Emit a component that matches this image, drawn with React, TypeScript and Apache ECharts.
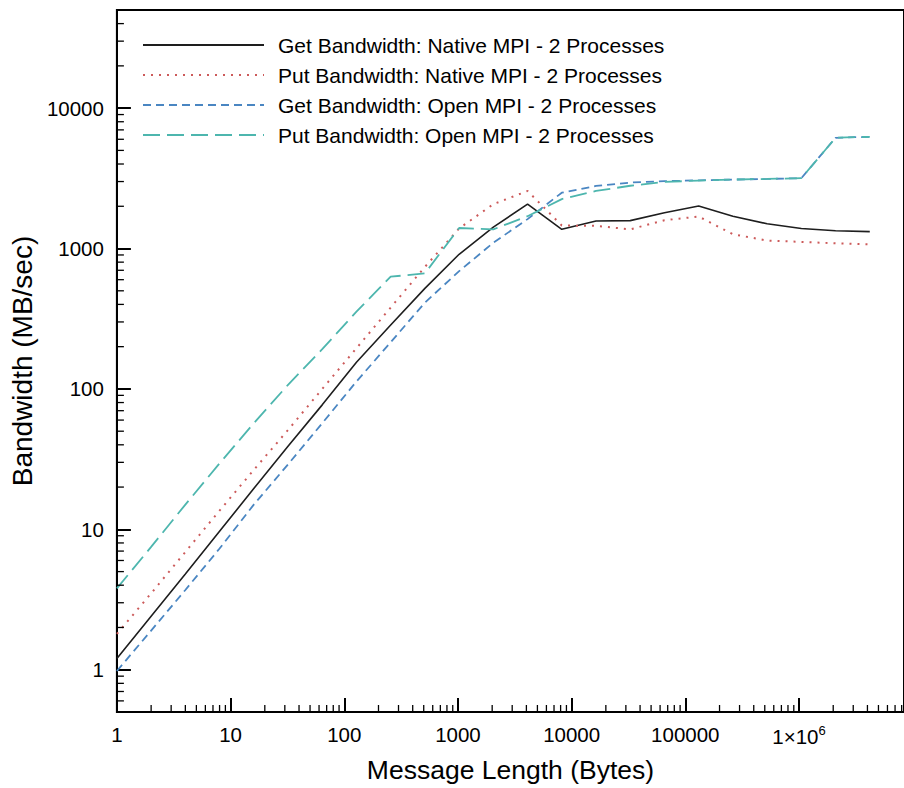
import React, { useEffect, useRef } from "react";
import * as echarts from "echarts";

const FONT = "'Liberation Sans', Arial, Helvetica, sans-serif";

// Message sizes (bytes)
const SIZES = [
  1, 2, 4, 8, 16, 32, 64, 128, 256, 512, 1024, 2048, 4096, 8192, 16384, 32768,
  65536, 131072, 262144, 524288, 1048576, 2097152, 4194304,
];

// Bandwidth (MB/sec)
const GET_NATIVE = [
  1.2, 2.4, 4.8, 9.7, 19.5, 39, 77, 155, 285, 520, 910, 1420, 2070, 1370, 1570,
  1580, 1800, 2010, 1700, 1500, 1390, 1340, 1320,
];
const PUT_NATIVE = [
  1.8, 3.5, 6.9, 13.6, 26.5, 51, 100, 195, 380, 740, 1390, 2070, 2570, 1460,
  1450, 1370, 1590, 1690, 1265, 1140, 1115, 1090, 1070,
];
const GET_OPEN = [
  0.98, 1.9, 3.7, 7.3, 15, 29, 57, 113, 215, 412, 690, 1100, 1620, 2500, 2790,
  2950, 3020, 3060, 3100, 3130, 3170, 6150, 6250,
];
const PUT_OPEN = [
  3.8, 7.5, 15, 29.5, 57, 107, 192, 355, 630, 665, 1400, 1370, 1700, 2250,
  2570, 2800, 2980, 3050, 3100, 3130, 3170, 6150, 6250,
];

const SERIES_NAMES = [
  "Get Bandwidth: Native MPI - 2 Processes",
  "Put Bandwidth: Native MPI - 2 Processes",
  "Get Bandwidth: Open MPI - 2 Processes",
  "Put Bandwidth: Open MPI - 2 Processes",
];

const X_MIN = 1;
const X_MAX = 8388608;
const Y_MIN = 0.5;
const Y_MAX = 50000;

// minor tick positions (log axes)
const MINOR_MULT = [2, 3, 4, 5, 6, 7, 8, 9];
const X_DECADES = [1, 10, 100, 1000, 10000, 100000, 1000000];
const X_MINOR = X_DECADES.flatMap((d) => MINOR_MULT.map((m) => m * d));
const Y_MINOR = [
  0.6, 0.7, 0.8, 0.9,
  ...[1, 10, 100, 1000].flatMap((d) => MINOR_MULT.map((m) => m * d)),
  20000, 30000, 40000,
];

export default function App() {
  const ref = useRef<HTMLDivElement>(null);

  useEffect(() => {
    if (!ref.current) return;
    const chart = echarts.init(ref.current, null, { renderer: "svg" });

    const mk = (
      name: string,
      data: number[],
      color: string,
      width: number,
      type: any
    ) => ({
      name,
      type: "line",
      data: SIZES.map((s, i) => [s, data[i]]),
      symbol: "none",
      smooth: false,
      lineStyle: { color, width, type },
      itemStyle: { color },
      z: 3,
    });

    const minorX = {
      type: "custom",
      name: "_xminor",
      silent: true,
      clip: false,
      z: 5,
      data: X_MINOR.map((v) => [v, Y_MIN]),
      renderItem: (_p: any, api: any) => {
        const pt = api.coord([api.value(0), api.value(1)]);
        return {
          type: "line",
          shape: { x1: pt[0], y1: pt[1], x2: pt[0], y2: pt[1] - 7 },
          style: { stroke: "#000", lineWidth: 1.3 },
        };
      },
    };
    const minorY = {
      type: "custom",
      name: "_yminor",
      silent: true,
      clip: false,
      z: 5,
      data: Y_MINOR.map((v) => [X_MIN, v]),
      renderItem: (_p: any, api: any) => {
        const pt = api.coord([api.value(0), api.value(1)]);
        return {
          type: "line",
          shape: { x1: pt[0], y1: pt[1], x2: pt[0] + 7, y2: pt[1] },
          style: { stroke: "#000", lineWidth: 1.3 },
        };
      },
    };

    chart.setOption({
      animation: false,
      backgroundColor: "#fff",
      textStyle: { fontFamily: FONT },
      grid: {
        left: 112.7,
        right: -4.4,
        top: 10,
        bottom: 74.3,
        show: true,
        borderColor: "#000",
        borderWidth: 2,
        containLabel: false,
      },
      legend: {
        orient: "vertical",
        left: 142,
        top: 33,
        padding: 0,
        itemWidth: 121,
        itemHeight: 14,
        itemGap: 6,
        data: SERIES_NAMES,
        itemStyle: { opacity: 0, borderWidth: 0 },
        textStyle: {
          fontFamily: FONT,
          fontSize: 21,
          color: "#000",
          lineHeight: 24,
          padding: [0, 0, 0, 9],
        },
      },
      xAxis: {
        type: "log",
        logBase: 10,
        min: X_MIN,
        max: X_MAX,
        axisLine: { show: true, onZero: false, lineStyle: { color: "#000", width: 2 } },
        axisTick: { show: true, inside: true, length: 14, lineStyle: { color: "#000", width: 2 } },
        splitLine: { show: false },
        axisLabel: {
          margin: 12,
          fontSize: 20.5,
          color: "#000",
          fontFamily: FONT,
          showMaxLabel: false,
          formatter: (v: number) => {
            const r = Math.round(v);
            if (r >= 1000000) return "{b|1×10}{s|6}";
            return String(r);
          },
          rich: {
            b: { fontSize: 20.5, fontFamily: FONT, color: "#000", lineHeight: 24 },
            s: { fontSize: 13, fontFamily: FONT, color: "#000", lineHeight: 13, verticalAlign: "top" },
          },
        },
        name: "Message Length (Bytes)",
        nameLocation: "middle",
        nameGap: 44,
        nameTextStyle: { fontSize: 26.5, color: "#000", fontFamily: FONT },
      },
      yAxis: {
        type: "log",
        logBase: 10,
        min: Y_MIN,
        max: Y_MAX,
        axisLine: { show: true, onZero: false, lineStyle: { color: "#000", width: 2 } },
        axisTick: { show: true, inside: true, length: 14, lineStyle: { color: "#000", width: 2 } },
        splitLine: { show: false },
        axisLabel: {
          margin: 13,
          fontSize: 20.5,
          color: "#000",
          fontFamily: FONT,
          showMinLabel: false,
          showMaxLabel: false,
          formatter: (v: number) => String(Math.round(v)),
        },
        name: "Bandwidth (MB/sec)",
        nameLocation: "middle",
        nameGap: 70,
        nameTextStyle: { fontSize: 28, color: "#000", fontFamily: FONT },
      },
      series: [
        mk(SERIES_NAMES[0], GET_NATIVE, "#1e1e1e", 1.6, "solid"),
        mk(SERIES_NAMES[1], PUT_NATIVE, "#cc5a5a", 2, [2, 6]),
        mk(SERIES_NAMES[2], GET_OPEN, "#4a86c2", 1.8, [8, 5]),
        mk(SERIES_NAMES[3], PUT_OPEN, "#4db6ae", 1.8, [17, 7]),
        minorX,
        minorY,
      ],
    });

    return () => chart.dispose();
  }, []);

  return (
    <div
      ref={ref}
      style={{ position: "absolute", left: 0, top: 0, width: 904, height: 788 }}
    />
  );
}
